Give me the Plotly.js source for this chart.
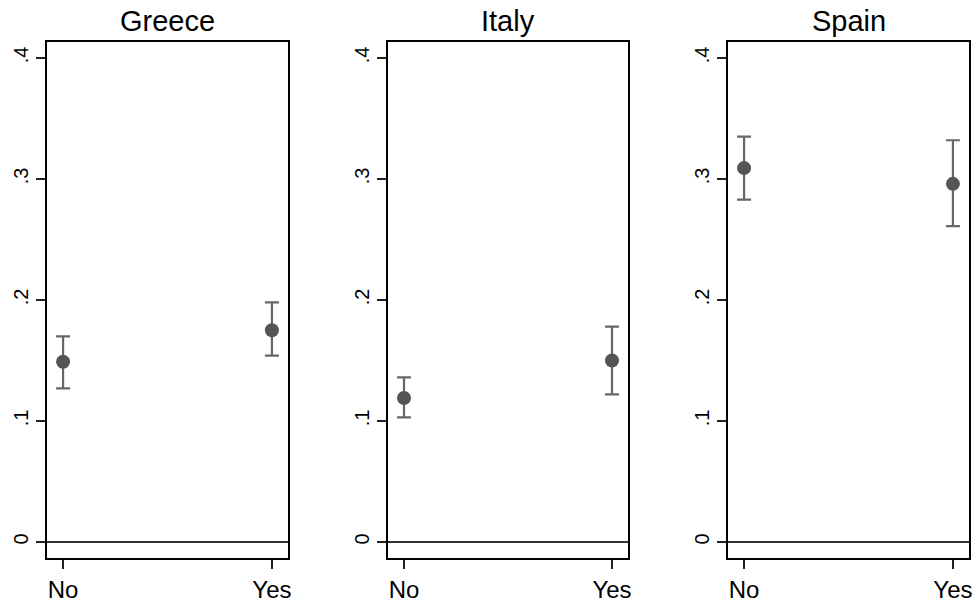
<!DOCTYPE html>
<html><head><meta charset="utf-8">
<script src="https://cdn.plot.ly/plotly-3.0.1.min.js"></script>
<style>body{margin:0;background:#fff}#c{width:979px;height:608px}</style>
</head><body><div id="c"></div>
<script>
const countries = ["Greece", "Italy", "Spain"];
const categories = ["No", "Yes"];
const estimates = {
  Greece: [0.149, 0.175],
  Italy: [0.119, 0.150],
  Spain: [0.309, 0.296]
};
const upper = {
  Greece: [0.170, 0.198],
  Italy: [0.136, 0.178],
  Spain: [0.335, 0.332]
};
const lower = {
  Greece: [0.127, 0.154],
  Italy: [0.103, 0.122],
  Spain: [0.283, 0.261]
};
const yTickVals = [0, 0.1, 0.2, 0.3, 0.4];
const yTickText = ["0", ".1", ".2", ".3", ".4"];

const W = 979, H = 608;
const xDomPx = [[47, 288], [388, 628], [728, 969]];
const yDomPx = [42, 558];

const traces = [];
const layout = {
  width: W, height: H,
  margin: {l: 0, r: 0, t: 0, b: 0},
  paper_bgcolor: "#fff", plot_bgcolor: "#fff",
  showlegend: false,
  font: {family: "Liberation Sans, Arial, sans-serif", color: "#000"},
  annotations: []
};

countries.forEach((c, i) => {
  const sfx = i === 0 ? "" : String(i + 1);
  traces.push({
    type: "scatter", mode: "markers",
    x: categories, y: estimates[c],
    xaxis: "x" + sfx, yaxis: "y" + sfx,
    marker: {size: 14, color: "#555555"},
    error_y: {
      type: "data", symmetric: false,
      array: estimates[c].map((v, k) => upper[c][k] - v),
      arrayminus: estimates[c].map((v, k) => v - lower[c][k]),
      color: "#666666", thickness: 2.2, width: 7
    },
    hoverinfo: "skip"
  });
  const xd = xDomPx[i];
  layout["xaxis" + sfx] = {
    domain: [xd[0] / W, xd[1] / W],
    anchor: "y" + sfx,
    type: "category",
    range: [-0.077, 1.077],
    showline: true, linecolor: "#000", linewidth: 2, mirror: true,
    ticks: "outside", ticklen: 9, tickwidth: 1.5, tickcolor: "#222",
    showgrid: false, zeroline: false,
    tickfont: {size: 24, color: "#000"},
    fixedrange: true
  };
  layout["yaxis" + sfx] = {
    domain: [1 - yDomPx[1] / H, 1 - yDomPx[0] / H],
    anchor: "x" + sfx,
    range: [-0.0132, 0.4132],
    tickvals: yTickVals, ticktext: yTickText,
    tickangle: -90,
    showline: true, linecolor: "#000", linewidth: 2, mirror: true,
    ticks: "outside", ticklen: 9, tickwidth: 1.5, tickcolor: "#222",
    showgrid: false,
    zeroline: true, zerolinecolor: "#333", zerolinewidth: 1.5,
    tickfont: {size: 20, color: "#000"},
    fixedrange: true
  };
  layout.annotations.push({
    text: c, xref: "paper", yref: "paper",
    x: (xd[0] + xd[1]) / 2 / W, y: 1 - 21 / H,
    xanchor: "center", yanchor: "middle",
    showarrow: false, font: {size: 29, color: "#000"}
  });
});

Plotly.newPlot("c", traces, layout, {displayModeBar: false, staticPlot: true});
</script>
</body></html>
